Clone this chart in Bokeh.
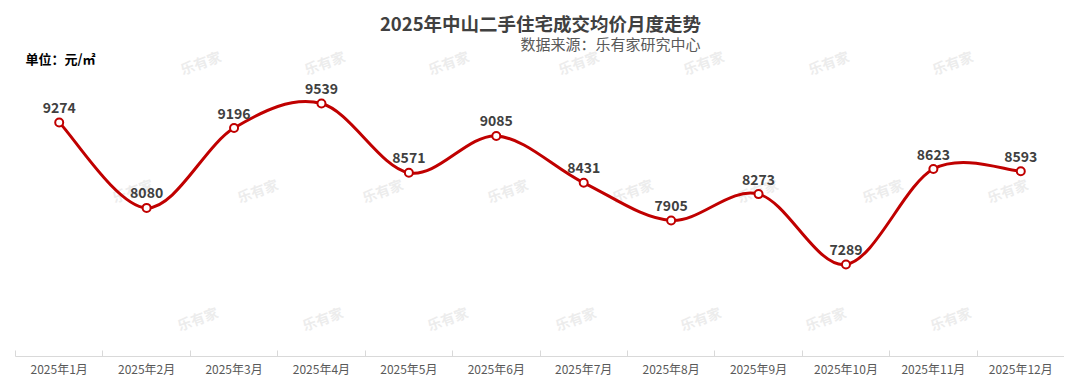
from bokeh.plotting import figure
from bokeh.models import Range1d, FixedTicker, Label
from bokeh.embed import file_html
from bokeh.resources import INLINE
from bokeh.core.properties import value
import numpy as np

# ---- data ----
months = ["2025年1月", "2025年2月", "2025年3月", "2025年4月", "2025年5月", "2025年6月",
          "2025年7月", "2025年8月", "2025年9月", "2025年10月", "2025年11月", "2025年12月"]
prices = [9274, 8080, 9196, 9539, 8571, 9085, 8431, 7905, 8273, 7289, 8623, 8593]
title_text = "2025年中山二手住宅成交均价月度走势"
subtitle_text = "数据来源：乐有家研究中心"
unit_text = "单位：元/㎡"
watermark_text = "乐有家"

FONT = "Noto Sans CJK SC"
RED = "#C00000"
Y_MIN, Y_MAX = 6003, 10867
FRAME_W, FRAME_H = 1049, 348
LEFT, TOP = 15, 8

p = figure(frame_width=FRAME_W, frame_height=FRAME_H,
           min_border_left=LEFT, min_border_right=0, min_border_top=TOP, min_border_bottom=18,
           x_range=Range1d(0, len(months)), y_range=Range1d(Y_MIN, Y_MAX),
           output_backend="svg", toolbar_location=None,
           background_fill_color="white", border_fill_color="white")
p.outline_line_color = None
p.grid.visible = False
p.yaxis.visible = False


def dx(px):
    # picture pixel -> data x
    return (px - LEFT) / FRAME_W * len(months)


def dy(py):
    return Y_MAX - (py - TOP) / FRAME_H * (Y_MAX - Y_MIN)


xs = np.arange(len(months)) + 0.5
ys = np.array(prices, dtype=float)

# x axis
ax = p.xaxis[0]
ax.ticker = FixedTicker(ticks=[float(x) for x in xs], minor_ticks=list(range(len(months) + 1)))
ax.major_label_overrides = {float(x): m for x, m in zip(xs, months)}
ax.major_tick_in = 0
ax.major_tick_out = 0
ax.minor_tick_in = 6
ax.minor_tick_out = 0
ax.minor_tick_line_color = "#D9D9D9"
ax.axis_line_color = "#D9D9D9"
ax.major_label_standoff = 3
ax.major_label_text_font = FONT
ax.major_label_text_font_size = "12px"
ax.major_label_text_color = "#595959"

# watermarks
wm_x, wm_y = [], []
for row_y, row_xs in [(62, [200, 324, 448, 578, 703, 828, 952]),
                      (190, [132, 257, 382, 507, 632, 757, 882, 1007]),
                      (318, [197, 322, 447, 575, 700, 825, 950])]:
    for px in row_xs:
        wm_x.append(dx(px))
        wm_y.append(dy(row_y))
p.text(wm_x, wm_y, text=[watermark_text] * len(wm_x), angle=0.35,
       text_font=value(FONT), text_font_style="bold", text_font_size="14px",
       text_color="#D9D9D9", text_alpha=0.5, text_align="center", text_baseline="middle")

# smooth (Catmull-Rom) curve
n = len(xs)
P = np.column_stack([xs, ys])
x0, y0, x1, y1, cx0, cy0, cx1, cy1 = ([] for _ in range(8))
for i in range(n - 1):
    p0 = P[i - 1] if i > 0 else P[i]
    p1 = P[i]
    p2 = P[i + 1]
    p3 = P[i + 2] if i + 2 < n else P[i + 1]
    c1 = p1 + (p2 - p0) / 6.0
    c2 = p2 - (p3 - p1) / 6.0
    x0.append(p1[0]); y0.append(p1[1]); x1.append(p2[0]); y1.append(p2[1])
    cx0.append(c1[0]); cy0.append(c1[1]); cx1.append(c2[0]); cy1.append(c2[1])
p.bezier(x0=x0, y0=y0, x1=x1, y1=y1, cx0=cx0, cy0=cy0, cx1=cx1, cy1=cy1,
         line_color=RED, line_width=3)

p.scatter(xs, ys, size=8, fill_color="white", line_color=RED, line_width=2)

p.text(xs, ys, text=[str(v) for v in prices], y_offset=-15,
       text_font=value(FONT), text_font_style="bold", text_font_size="14px",
       text_color="#404040", text_align="center", text_baseline="middle")

# titles
p.add_layout(Label(x=dx(540), y=dy(22), text=title_text, text_font=FONT,
                   text_font_style="bold", text_font_size="18.5px", text_color="#404040",
                   text_align="center", text_baseline="middle"))
p.add_layout(Label(x=dx(700), y=dy(43), text=subtitle_text, text_font=FONT,
                   text_font_size="15px", text_color="#595959",
                   text_align="right", text_baseline="middle"))
p.add_layout(Label(x=dx(25), y=dy(58), text=unit_text, text_font=FONT,
                   text_font_style="bold", text_font_size="13px", text_color="#000000",
                   text_align="left", text_baseline="middle"))

open("out.html", "w").write(file_html(p, INLINE))
